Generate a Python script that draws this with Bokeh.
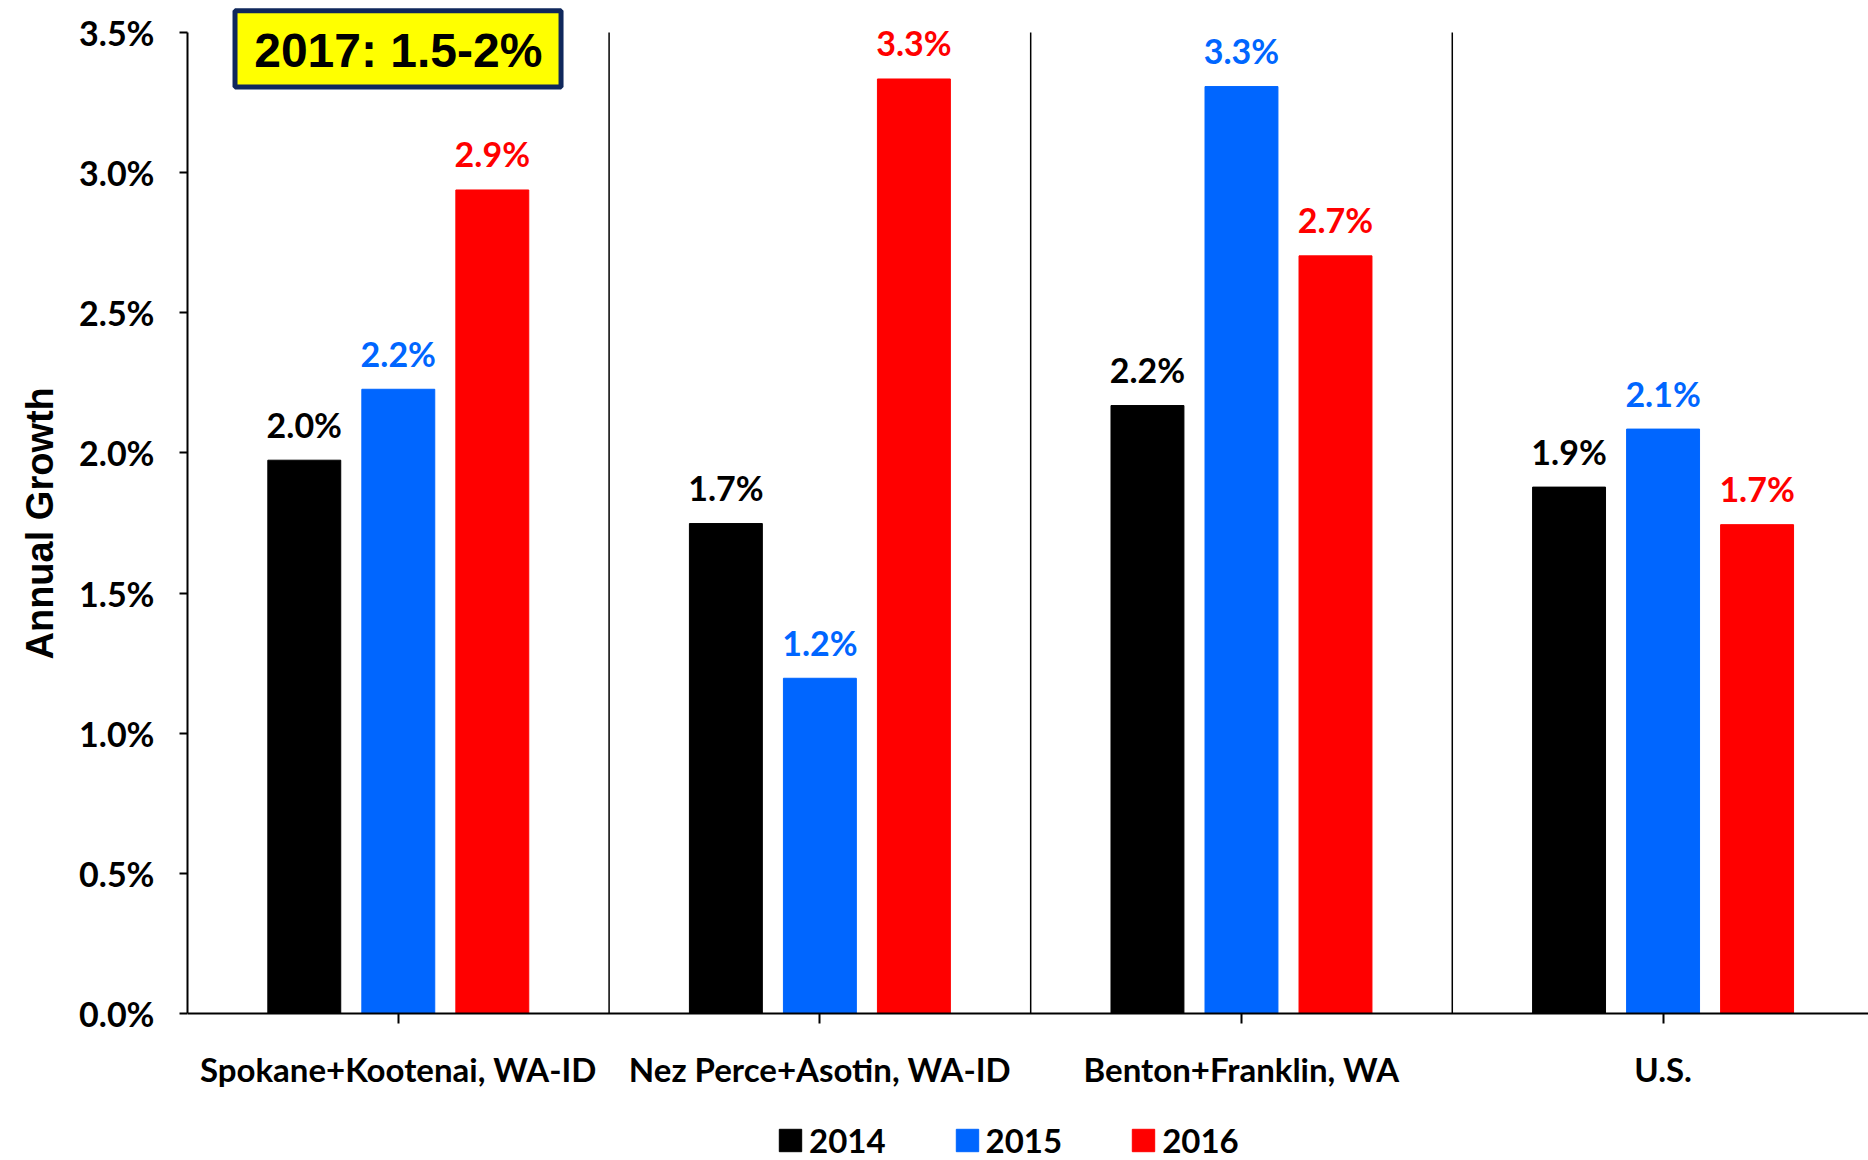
from bokeh.plotting import figure
from bokeh.models import (Range1d, FixedTicker, PrintfTickFormatter, Legend, LegendItem,
                          BoxAnnotation, Label, ColumnDataSource, Title)
from bokeh.core.properties import value
from bokeh.embed import file_html
from bokeh.resources import INLINE

# ---------------- data ----------------
categories = ["Spokane+Kootenai, WA-ID", "Nez Perce+Asotin, WA-ID",
              "Benton+Franklin, WA", "U.S."]
years = ["2014", "2015", "2016"]
growth_2014 = [1.974, 1.748, 2.169, 1.878]
growth_2015 = [2.227, 1.196, 3.307, 2.085]
growth_2016 = [2.938, 3.334, 2.703, 1.744]
series_colors = ["#000000", "#0066FF", "#FF0000"]
y_ticks = [0.0, 0.5, 1.0, 1.5, 2.0, 2.5, 3.0, 3.5]
note_text = "2017: 1.5-2%"
y_title = "Annual Growth"

CAL = "Lato"
WIDE = "Liberation Sans"

series = [growth_2014, growth_2015, growth_2016]
n_cat = len(categories)
centers = [i + 0.5 for i in range(n_cat)]
offsets = [-0.223, 0.0, 0.223]
bar_w = 0.173

p = figure(frame_width=1683, frame_height=1160,
           x_range=Range1d(0, 3.992), y_range=Range1d(-0.5244, 3.614),
           output_backend="svg", toolbar_location=None,
           min_border_left=185, min_border_top=0, min_border_right=0,
           min_border_bottom=0)
p.outline_line_color = None
p.xgrid.grid_line_color = None
p.ygrid.grid_line_color = None
p.background_fill_color = "white"
p.border_fill_color = "white"

# separators between categories
sep_x = [float(i) for i in range(1, n_cat)]
p.segment(x0=sep_x, y0=[0] * len(sep_x), x1=sep_x, y1=[y_ticks[-1]] * len(sep_x),
          line_color="black", line_width=1.5)

renderers = []
for j, (vals, col) in enumerate(zip(series, series_colors)):
    xs = [c + offsets[j] for c in centers]
    src = ColumnDataSource(dict(x=xs, top=vals, lab=[f"{v:.1f}%" for v in vals]))
    r = p.vbar(x="x", top="top", width=bar_w, bottom=0, source=src,
               fill_color=col, line_color=col, line_width=1)
    renderers.append(r)
    p.text(x="x", y="top", text="lab", source=src, text_align="center",
           text_baseline="alphabetic", y_offset=-36,
           text_font=value(CAL), text_font_style="bold",
           text_font_size="34px", text_color=col)

# y axis
ya = p.yaxis[0]
ya.ticker = FixedTicker(ticks=y_ticks)
ya.formatter = PrintfTickFormatter(format="%.1f%%")
ya.bounds = (0, y_ticks[-1])
ya.axis_line_width = 2
ya.major_tick_line_width = 2
ya.major_tick_out = 8
ya.major_tick_in = 0
ya.minor_tick_line_color = None
ya.major_label_standoff = 25
ya.major_label_text_font = CAL
ya.major_label_text_font_style = "bold"
ya.major_label_text_font_size = "34px"
ya.major_label_text_color = "black"

p.add_layout(Title(text=y_title, align="left", offset=501, standoff=32,
                   text_font=WIDE, text_font_style="bold",
                   text_font_size="38px", text_color="black"), "left")

# x axis at y = 0
xa = p.xaxis[0]
xa.fixed_location = 0
xa.ticker = FixedTicker(ticks=centers)
xa.major_label_overrides = {c: name for c, name in zip(centers, categories)}
xa.axis_line_width = 2
xa.major_tick_line_width = 2
xa.major_tick_out = 10
xa.major_tick_in = 0
xa.minor_tick_line_color = None
xa.major_label_standoff = 25
xa.major_label_text_font = CAL
xa.major_label_text_font_style = "bold"
xa.major_label_text_font_size = "33px"
xa.major_label_text_color = "black"

# note box
box = BoxAnnotation(left=0.1127, right=0.886, bottom=3.3056, top=3.577,
                    fill_color="#FFFF00", fill_alpha=1.0,
                    line_color="#10285C", line_alpha=1.0, line_width=5)
p.add_layout(box)
p.add_layout(Label(x=0.5, y=3.434, text=note_text, text_align="center",
                   text_baseline="middle", text_font=WIDE,
                   text_font_style="bold", text_font_size="48px",
                   text_color="black"))

legend = Legend(items=[LegendItem(label=y, renderers=[r]) for y, r in zip(years, renderers)],
                orientation="horizontal", location=(589, 0),
                glyph_width=28, glyph_height=28, label_standoff=5, spacing=67,
                padding=0, margin=0, border_line_color=None,
                background_fill_alpha=0,
                label_text_font=CAL, label_text_font_style="bold",
                label_text_font_size="33px", label_text_color="black")
p.add_layout(legend)

open("out.html", "w").write(file_html(p, INLINE))
